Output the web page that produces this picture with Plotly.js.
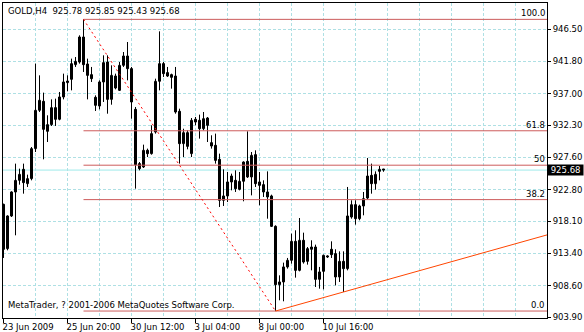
<!DOCTYPE html>
<html><head><meta charset="utf-8">
<script src="https://cdn.plot.ly/plotly-3.0.1.min.js"></script>
<style>html,body{margin:0;padding:0;background:#fff;}#chart{width:584px;height:332px;}</style>
</head><body><div id="chart"></div>
<script>
// ---- data ----
const symbolTitle = "GOLD,H4  925.78 925.85 925.43 925.68";
const copyright = "MetaTrader, ? 2001-2006 MetaQuotes Software Corp.";
const open = [
920.61, 914.06, 918.89, 922.44, 924.16, 925.79, 923.67, 924.41, 928.85, 934.52,
935.85, 931.41, 932.40, 934.91, 933.19, 936.49, 938.61, 939.10, 941.27, 941.66,
945.36, 941.37, 939.79, 936.44, 935.16, 938.71, 941.66, 936.14, 939.59, 937.47,
941.17, 942.55, 940.68, 934.66, 926.63, 926.14, 928.60, 928.11, 931.31, 938.81,
941.42, 940.09, 939.79, 939.59, 934.37, 929.59, 931.21, 928.11, 933.19, 933.04,
931.80, 933.38, 929.73, 929.34, 927.27, 921.21, 921.85, 923.92, 924.16, 922.83,
924.02, 926.97, 924.66, 927.96, 923.92, 923.52, 922.44, 921.85, 917.36, 908.73,
909.13, 911.35, 912.33, 915.14, 910.85, 915.29, 912.18, 913.96, 914.30, 909.52,
910.70, 912.82, 913.96, 913.32, 909.87, 912.18, 911.10, 918.74, 920.56, 918.49,
920.37, 921.55, 924.90, 923.67, 925.49, 925.78];
const high = [
920.71, 918.99, 922.54, 926.63, 925.89, 926.63, 925.00, 929.09, 941.42, 939.69,
937.13, 933.78, 936.14, 936.24, 937.23, 939.94, 939.69, 942.16, 942.40, 945.61,
947.97, 942.16, 940.93, 936.73, 938.95, 942.65, 942.65, 941.17, 939.94, 941.66,
943.14, 944.62, 940.93, 935.01, 926.87, 929.44, 928.85, 932.30, 939.20, 946.20,
941.66, 940.93, 939.94, 940.93, 934.76, 931.80, 931.56, 933.38, 933.53, 933.88,
934.27, 933.53, 930.82, 931.07, 928.11, 925.79, 925.40, 925.15, 925.64, 925.40,
926.97, 931.41, 928.35, 928.60, 925.40, 924.16, 925.49, 922.04, 917.51, 910.11,
911.99, 912.68, 916.28, 916.77, 918.59, 916.42, 914.30, 915.29, 914.65, 911.35,
913.17, 913.07, 915.14, 913.96, 913.66, 913.66, 923.18, 921.21, 921.21, 920.56,
922.44, 927.47, 926.63, 925.49, 926.28, 925.85];
const low = [
912.68, 913.81, 918.74, 916.03, 923.52, 922.19, 923.18, 924.16, 928.35, 934.27,
927.27, 929.83, 932.20, 932.20, 933.04, 936.14, 937.33, 937.47, 940.93, 941.42,
940.19, 936.14, 938.71, 934.42, 934.66, 935.75, 934.02, 935.35, 937.62, 937.38,
940.93, 938.95, 933.28, 922.93, 925.64, 925.99, 927.61, 927.96, 931.07, 937.47,
939.45, 939.45, 937.72, 934.02, 926.63, 927.61, 928.75, 927.61, 932.30, 930.33,
931.56, 929.83, 928.85, 926.63, 920.22, 920.37, 920.96, 922.68, 922.44, 922.68,
921.06, 924.51, 921.94, 923.18, 920.47, 921.70, 918.49, 917.26, 904.83, 906.42,
906.27, 911.10, 911.84, 909.77, 910.70, 911.84, 911.69, 910.85, 908.39, 908.14,
908.04, 912.68, 912.68, 908.63, 909.13, 907.65, 910.85, 918.49, 917.61, 918.25,
918.99, 921.35, 922.19, 922.78, 924.16, 925.43];
const close = [
913.96, 918.89, 922.44, 924.16, 925.05, 923.82, 924.41, 928.85, 934.52, 936.00,
931.71, 932.40, 934.91, 933.19, 936.49, 938.71, 938.85, 941.42, 941.76, 945.36,
941.27, 939.69, 939.20, 935.26, 938.71, 941.57, 936.14, 939.69, 937.82, 941.17,
942.55, 940.68, 935.75, 926.48, 925.89, 928.60, 928.11, 931.07, 938.81, 941.42,
939.94, 939.59, 939.40, 934.27, 929.59, 931.21, 929.19, 933.04, 932.79, 931.80,
933.28, 932.30, 929.24, 927.12, 921.21, 921.85, 923.92, 924.80, 922.93, 924.02,
926.87, 924.66, 927.86, 923.67, 923.42, 922.44, 921.70, 917.36, 908.73, 909.13,
911.35, 912.33, 915.14, 910.85, 915.29, 912.08, 914.06, 914.30, 909.52, 910.61,
913.07, 912.92, 913.17, 909.87, 912.18, 911.10, 918.89, 920.56, 918.49, 920.37,
921.45, 924.80, 923.67, 925.05, 925.79, 925.68];
const xTickIdx  = [0, 16, 32, 48, 64, 80];
const xTickText = ["23 Jun 2009", "25 Jun 20:00", "30 Jun 12:00", "3 Jul 04:00", "8 Jul 00:00", "10 Jul 16:00"];
const yTickVals = [946.50, 941.80, 937.00, 932.30, 927.60, 922.80, 918.10, 913.40, 908.60, 903.90];
const fibPercents = [100.0, 61.8, 50, 38.2, 0.0];
const fibLabels = ["100.0", "61.8", "50", "38.2", "0.0"];
const trendAnchorBars = [68, 85];   // trend line through the lows of these bars
const bid = 925.68;

// ---- styles ----
const GRID = '#AEE0E4';
const FIBC = '#CD5C5C';
const FONT = 'DejaVu Sans, Verdana, sans-serif';
const XR = [-0.125, 135.875];
const YR = [903.80, 950.39];

const idx = open.map((_, i) => i);
const bull = idx.filter(i => close[i] >= open[i]);
const bear = idx.filter(i => close[i] < open[i]);
const minH = 0.16;
function bodyTrace(list, fill) {
  return {
    type: 'bar', x: list,
    base: list.map(i => Math.min(open[i], close[i])),
    y: list.map(i => Math.max(Math.abs(close[i] - open[i]), minH)),
    width: 0.5,
    marker: {color: fill, line: {color: '#000', width: 1}},
    hoverinfo: 'skip'
  };
}
const wx = [], wy = [];
idx.forEach(i => { wx.push(i, i, null); wy.push(low[i], high[i], null); });

const hi = Math.max(...high), lo = Math.min(...low);
const hiBar = high.indexOf(hi), loBar = low.indexOf(lo);
const fx = [], fy = [];
fibPercents.forEach(p => { const v = lo + (hi - lo) * p / 100; fx.push(hiBar, XR[1], null); fy.push(v, v, null); });

const a0 = trendAnchorBars[0], a1 = trendAnchorBars[1];
const slope = (low[a1] - low[a0]) / (a1 - a0);

const traces = [
  {type: 'scatter', mode: 'lines', x: wx, y: wy, line: {color: '#000', width: 1}, hoverinfo: 'skip'},
  bodyTrace(bull, '#fff'),
  bodyTrace(bear, '#000'),
  {type: 'scatter', mode: 'lines', x: fx, y: fy, line: {color: FIBC, width: 1}, hoverinfo: 'skip'},
  {type: 'scatter', mode: 'lines', x: [hiBar, loBar], y: [hi, lo], line: {color: '#FF0000', width: 1, dash: '2px,3px'}, hoverinfo: 'skip'},
  {type: 'scatter', mode: 'lines', x: [a0, XR[1]], y: [low[a0], low[a0] + slope * (XR[1] - a0)], line: {color: '#FF4500', width: 1}, hoverinfo: 'skip'}
];

const annotations = [
  {xref: 'paper', yref: 'paper', x: 0, y: 1, xanchor: 'left', yanchor: 'top', xshift: 3, yshift: -1,
   text: symbolTitle, showarrow: false, font: {family: FONT, size: 8.5, color: '#000'}},
  {xref: 'paper', yref: 'paper', x: 0, y: 0, xanchor: 'left', yanchor: 'bottom', xshift: 3, yshift: 6,
   text: copyright, showarrow: false, font: {family: FONT, size: 8.5, color: '#000'}},
  {xref: 'paper', yref: 'y', x: 1, y: bid, xanchor: 'left', yanchor: 'middle', xshift: 0,
   text: '\u00a0' + bid.toFixed(2) + '\u00a0', showarrow: false, bgcolor: '#000', borderpad: 0,
   font: {family: FONT, size: 8.5, color: '#fff'}}
];
fibPercents.forEach((p, k) => {
  annotations.push({xref: 'paper', yref: 'y', x: 1, y: lo + (hi - lo) * p / 100, xanchor: 'right', yanchor: 'bottom',
    xshift: -1, yshift: 0, text: fibLabels[k], showarrow: false, borderpad: 0,
    font: {family: FONT, size: 8.5, color: '#000'}});
});

const layout = {
  width: 584, height: 332,
  margin: {l: 3, r: 37, t: 3, b: 14, pad: 0},
  paper_bgcolor: '#fff', plot_bgcolor: '#fff',
  showlegend: false, hovermode: false,
  barmode: 'overlay', bargap: 0, bargroupgap: 0,
  font: {family: FONT, size: 8.5, color: '#000'},
  xaxis: {
    type: 'linear', range: XR, tickmode: 'array', tickvals: xTickIdx, ticktext: xTickText,
    ticks: 'outside', ticklen: 4, tickcolor: '#000', tickwidth: 1, ticklabelposition: 'outside right',
    ticklabelshift: -2, ticklabelstandoff: 1,
    showgrid: true, gridcolor: GRID, gridwidth: 1, griddash: '3px,2px',
    minor: {tick0: 0, dtick: 8, showgrid: true, gridcolor: GRID, gridwidth: 1, griddash: '3px,2px', ticks: ''},
    showline: true, mirror: true, linecolor: '#000', linewidth: 1, zeroline: false, fixedrange: true,
    tickfont: {family: FONT, size: 8.5, color: '#000'}
  },
  yaxis: {
    side: 'right', range: YR, tickmode: 'array', tickvals: yTickVals, ticktext: yTickVals.map(v => v.toFixed(2)),
    ticks: 'outside', ticklen: 3, tickcolor: '#000', tickwidth: 1,
    showgrid: true, gridcolor: GRID, gridwidth: 1, griddash: '3px,2px',
    showline: true, mirror: true, linecolor: '#000', linewidth: 1, zeroline: false, fixedrange: true,
    tickfont: {family: FONT, size: 8.5, color: '#000'}
  },
  shapes: [
    {type: 'line', layer: 'below', xref: 'paper', yref: 'y', x0: 0, x1: 1, y0: bid, y1: bid,
     line: {color: '#9EEAEA', width: 1}}
  ],
  annotations: annotations
};

Plotly.newPlot('chart', traces, layout, {staticPlot: true, displayModeBar: false});
</script>
</body></html>
